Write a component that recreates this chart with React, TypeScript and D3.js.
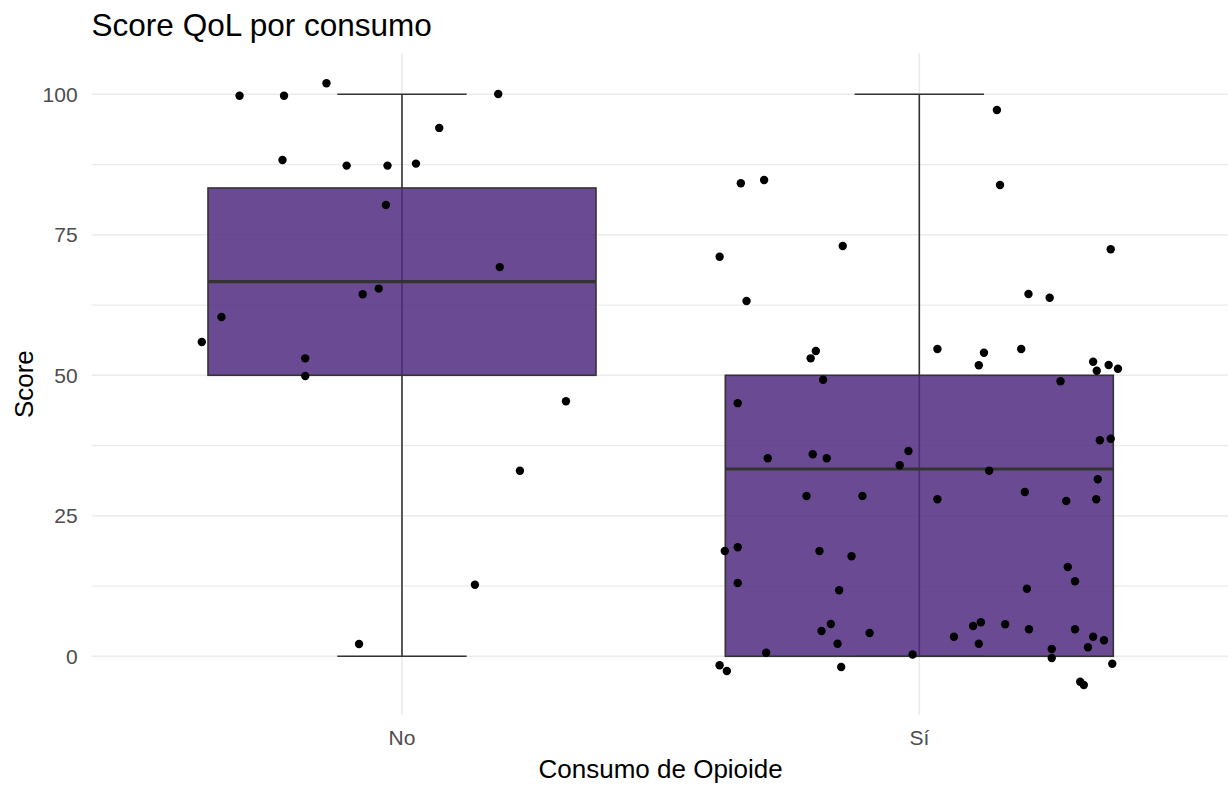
import React from "react";
import * as d3 from "d3";

// Box summary per opioid-use group
const categories = ["No", "Sí"];
const whiskerLow = [0, 0];
const quartile1 = [50, 0];
const medians = [66.67, 33.33];
const quartile3 = [83.33, 50];
const whiskerHigh = [100, 100];

// Jittered observations: horizontal offset (in category units) and score
const noJitter = [-0.314, -0.228, -0.146, -0.231, -0.107, -0.028, 0.027, -0.031, -0.076, -0.045, -0.349, -0.387, -0.187, -0.187, 0.072, 0.186, 0.189, 0.317, 0.228, 0.141, -0.083];
const noScore = [99.75, 99.75, 101.96, 88.31, 87.31, 87.31, 87.67, 80.3, 64.43, 65.43, 60.37, 55.93, 53.02, 49.88, 94.02, 100.05, 69.25, 45.39, 33.01, 12.72, 2.19];

const siJitter = [
  -0.345, -0.3, -0.386, -0.148, -0.334, -0.2, -0.21, -0.186, -0.351, 0.15, 0.156, 0.37, 0.211, 0.252, 0.035, 0.125, 0.115, 0.197, 0.336, 0.343, 0.366, 0.384, 0.273,
  -0.293, -0.206, -0.179, -0.021, -0.038, -0.218, -0.11, -0.376, -0.351, -0.193, -0.131, -0.351, -0.155, -0.171, -0.189, -0.096, -0.158, -0.296, -0.013, -0.386, -0.372, -0.151,
  0.349, 0.37, 0.135, 0.345, 0.035, 0.204, 0.284, 0.342, 0.287, 0.301, 0.208, 0.104, 0.119, 0.166, 0.067, 0.115, 0.212, 0.301, 0.336, 0.357, 0.326, 0.256, 0.256, 0.373, 0.311, 0.318,
];
const siScore = [
  84.16, 84.75, 71.1, 73.01, 63.22, 54.32, 53.02, 49.22, 45.04, 97.21, 83.86, 72.42, 64.47, 63.81, 54.68, 54.02, 51.78, 54.68, 52.42, 50.82, 51.83, 51.17, 48.93,
  35.23, 35.94, 35.23, 36.53, 33.99, 28.52, 28.52, 18.74, 19.4, 18.74, 17.79, 13.04, 11.74, 5.75, 4.5, 4.15, 2.24, 0.64, 0.32, -1.6, -2.62, -1.9,
  38.43, 38.72, 33.02, 31.49, 27.94, 29.23, 27.63, 27.94, 15.89, 13.35, 12.03, 5.39, 6.05, 5.69, 3.49, 2.24, 4.8, 4.8, 3.49, 2.85, 1.6, 1.3, -0.3, -1.32, -4.52, -5.11,
];

const majorTicks = [0, 25, 50, 75, 100];
const minorTicks = [12.5, 37.5, 62.5, 87.5];

const WIDTH = 1228;
const HEIGHT = 785;
const PANEL = { left: 91.6, right: 1229.7, top: 53.2, bottom: 715.1 };
const FONT = "'Liberation Sans', Arial, Helvetica, sans-serif";

export default function App() {
  const points = [
    ...noScore.map((s, i) => ({ cat: "No", off: noJitter[i], score: s })),
    ...siScore.map((s, i) => ({ cat: "Sí", off: siJitter[i], score: s })),
  ];

  const allScores = points.map((p) => p.score).concat(whiskerLow, whiskerHigh);
  const lo = d3.min(allScores) as number;
  const hi = d3.max(allScores) as number;
  const pad = (hi - lo) * 0.05;

  const x = d3.scalePoint<string>().domain(categories).range([PANEL.left, PANEL.right]).padding(0.6);
  const step = x.step();
  const y = d3.scaleLinear().domain([lo - pad, hi + pad]).range([PANEL.bottom, PANEL.top]);

  const boxHalf = (0.75 * step) / 2;
  const capHalf = (0.25 * step) / 2;
  const ink = "#333333";

  return (
    <svg
      width={WIDTH}
      height={HEIGHT}
      style={{ position: "absolute", left: 0, top: 0, background: "#ffffff" }}
      fontFamily={FONT}
    >
      {/* grid */}
      {minorTicks.map((t) => (
        <line key={"mn" + t} x1={PANEL.left} x2={PANEL.right} y1={y(t)} y2={y(t)} stroke="#ebebeb" strokeWidth={1.2} />
      ))}
      {majorTicks.map((t) => (
        <line key={"mj" + t} x1={PANEL.left} x2={PANEL.right} y1={y(t)} y2={y(t)} stroke="#ebebeb" strokeWidth={1.6} />
      ))}
      {categories.map((c) => (
        <line key={"vg" + c} x1={x(c)} x2={x(c)} y1={PANEL.top} y2={PANEL.bottom} stroke="#ebebeb" strokeWidth={1.6} />
      ))}

      {/* error bars spanning the whiskers */}
      {categories.map((c, i) => {
        const cx = x(c) as number;
        return (
          <g key={"eb" + c} stroke={ink} strokeWidth={1.6}>
            <line x1={cx} x2={cx} y1={y(whiskerLow[i])} y2={y(whiskerHigh[i])} />
            <line x1={cx - capHalf} x2={cx + capHalf} y1={y(whiskerLow[i])} y2={y(whiskerLow[i])} />
            <line x1={cx - capHalf} x2={cx + capHalf} y1={y(whiskerHigh[i])} y2={y(whiskerHigh[i])} />
          </g>
        );
      })}

      {/* boxes */}
      {categories.map((c, i) => {
        const cx = x(c) as number;
        return (
          <g key={"bx" + c}>
            <rect
              x={cx - boxHalf}
              y={y(quartile3[i])}
              width={boxHalf * 2}
              height={y(quartile1[i]) - y(quartile3[i])}
              fill="#502c80"
              fillOpacity={0.85}
              stroke={ink}
              strokeWidth={1.6}
            />
            <line x1={cx - boxHalf} x2={cx + boxHalf} y1={y(medians[i])} y2={y(medians[i])} stroke={ink} strokeWidth={3.2} />
          </g>
        );
      })}

      {/* observations */}
      {points.map((p, i) => (
        <circle key={"pt" + i} cx={(x(p.cat) as number) + p.off * step} cy={y(p.score)} r={4.2} fill="#000000" />
      ))}

      {/* y axis labels */}
      {majorTicks.map((t) => (
        <text key={"yl" + t} x={PANEL.left - 14} y={y(t)} dy="0.36em" textAnchor="end" fontSize={21} fill="#4d4d4d">
          {t}
        </text>
      ))}
      {/* x axis labels */}
      {categories.map((c) => (
        <text key={"xl" + c} x={x(c)} y={745} textAnchor="middle" fontSize={21} fill="#4d4d4d">
          {c}
        </text>
      ))}

      {/* titles */}
      <text x={(PANEL.left + PANEL.right) / 2} y={778} textAnchor="middle" fontSize={26} fill="#000000">
        Consumo de Opioide
      </text>
      <text
        transform={`translate(32.5, ${(PANEL.top + PANEL.bottom) / 2}) rotate(-90)`}
        textAnchor="middle"
        fontSize={26}
        fill="#000000"
      >
        Score
      </text>
      <text x={PANEL.left} y={35.5} fontSize={31.5} fill="#000000">
        Score QoL por consumo
      </text>
    </svg>
  );
}
